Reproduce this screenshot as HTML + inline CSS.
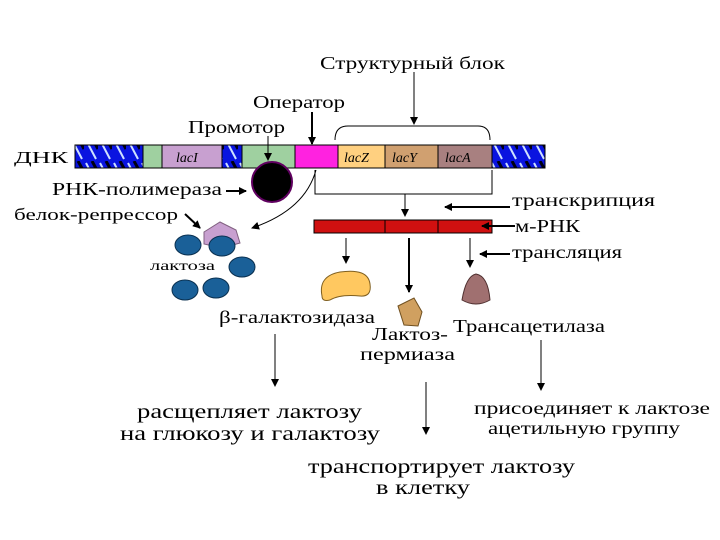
<!DOCTYPE html>
<html><head><meta charset="utf-8"><style>
html,body{margin:0;padding:0;background:#fff;width:720px;height:540px;overflow:hidden}
svg text{font-family:"Liberation Serif","DejaVu Serif",serif;fill:#000}
</style></head><body>
<svg width="720" height="540" viewBox="0 0 720 540" xmlns="http://www.w3.org/2000/svg">
<defs>
<marker id="a" markerWidth="8" markerHeight="8" refX="7" refY="4" orient="auto" markerUnits="userSpaceOnUse"><path d="M0,0 L8,4 L0,8 z" fill="#000"/></marker>
<pattern id="h" width="14" height="23" patternUnits="userSpaceOnUse"><rect width="14" height="23" fill="#0a14e0"/><path d="M2,2 L12,21" stroke="#cfe0ff" stroke-width="2"/><path d="M8,0 L14,11" stroke="#001" stroke-width="3"/></pattern>
</defs>
<g stroke="#000" stroke-width="1">
<rect x="75" y="145" width="68" height="23" fill="url(#h)"/>
<rect x="143" y="145" width="19" height="23" fill="#9fd0a0"/>
<rect x="162" y="145" width="60" height="23" fill="#c8a0d0"/>
<rect x="222" y="145" width="20" height="23" fill="url(#h)"/>
<rect x="242" y="145" width="53" height="23" fill="#9fd0a0"/>
<rect x="295" y="145" width="43" height="23" fill="#ff22e0"/>
<rect x="338" y="145" width="47" height="23" fill="#ffd080"/>
<rect x="385" y="145" width="53" height="23" fill="#d0a070"/>
<rect x="438" y="145" width="54" height="23" fill="#a88080"/>
<rect x="492" y="145" width="53" height="23" fill="url(#h)"/>
</g>
<g font-style="italic" font-size="14">
<text x="176" y="162">lacI</text><text x="344" y="162">lacZ</text><text x="392" y="162">lacY</text><text x="445" y="162">lacA</text>
</g>
<text x="14" y="163" font-size="17" textLength="54" lengthAdjust="spacingAndGlyphs">ДНК</text>
<path d="M335,140 Q335,126 348,126 L478,126 Q490,126 490,140" fill="none" stroke="#000"/>
<line x1="414" y1="72" x2="414" y2="124" stroke="#000" marker-end="url(#a)"/>
<text x="320" y="69" font-size="18" textLength="185" lengthAdjust="spacingAndGlyphs">Структурный блок</text>
<text x="253" y="108" font-size="18" textLength="92" lengthAdjust="spacingAndGlyphs">Оператор</text>
<line x1="312" y1="112" x2="312" y2="144" stroke="#000" stroke-width="2" marker-end="url(#a)"/>
<text x="188" y="133" font-size="18" textLength="97" lengthAdjust="spacingAndGlyphs">Промотор</text>
<line x1="268" y1="136" x2="268" y2="160" stroke="#000" marker-end="url(#a)"/>
<circle cx="272" cy="182" r="20" fill="#000" stroke="#600060" stroke-width="2"/>
<text x="52" y="195" font-size="18" textLength="170" lengthAdjust="spacingAndGlyphs">РНК-полимераза</text>
<line x1="226" y1="191" x2="246" y2="191" stroke="#000" stroke-width="2" marker-end="url(#a)"/>
<text x="14" y="220" font-size="17" textLength="164" lengthAdjust="spacingAndGlyphs">белок-репрессор</text>
<line x1="185" y1="214" x2="200" y2="228" stroke="#000" stroke-width="2" marker-end="url(#a)"/>
<path d="M316,170 Q305,210 252,228" fill="none" stroke="#000" marker-end="url(#a)"/>
<path d="M204,232 L220,222 L236,230 L240,243 L222,248 L204,244 z" fill="#c8a0d0" stroke="#806080"/>
<g fill="#1a6098" stroke="#0a3050">
<ellipse cx="188" cy="245" rx="13" ry="10"/><ellipse cx="222" cy="246" rx="13" ry="10"/>
<ellipse cx="242" cy="267" rx="13" ry="10"/><ellipse cx="185" cy="290" rx="13" ry="10"/><ellipse cx="216" cy="288" rx="13" ry="10"/>
</g>
<text x="150" y="270" font-size="14" textLength="65" lengthAdjust="spacingAndGlyphs">лактоза</text>
<path d="M315,170 L315,194 L492,194 L492,170" fill="none" stroke="#000"/>
<line x1="405" y1="194" x2="405" y2="216" stroke="#000" marker-end="url(#a)"/>
<line x1="510" y1="207" x2="445" y2="207" stroke="#000" stroke-width="2" marker-end="url(#a)"/>
<text x="512" y="206" font-size="18" textLength="143" lengthAdjust="spacingAndGlyphs">транскрипция</text>
<g stroke="#000"><rect x="314" y="220" width="71" height="13" fill="#d01010"/><rect x="385" y="220" width="53" height="13" fill="#d01010"/><rect x="438" y="220" width="54" height="13" fill="#d01010"/></g>
<line x1="515" y1="226" x2="482" y2="226" stroke="#000" stroke-width="2" marker-end="url(#a)"/>
<text x="515" y="232" font-size="18" textLength="65" lengthAdjust="spacingAndGlyphs">м-РНК</text>
<line x1="346" y1="238" x2="346" y2="263" stroke="#000" marker-end="url(#a)"/>
<line x1="409" y1="238" x2="409" y2="292" stroke="#000" stroke-width="2" marker-end="url(#a)"/>
<line x1="470" y1="238" x2="470" y2="267" stroke="#000" marker-end="url(#a)"/>
<line x1="510" y1="254" x2="480" y2="254" stroke="#000" stroke-width="2" marker-end="url(#a)"/>
<text x="512" y="258" font-size="18" textLength="110" lengthAdjust="spacingAndGlyphs">трансляция</text>
<path d="M322,296 Q318,276 340,272 Q368,268 370,284 Q372,297 360,296 Q340,294 330,300 Q322,302 322,296 z" fill="#ffc860" stroke="#806020"/>
<path d="M398,306 L414,298 L422,312 L418,326 L404,325 z" fill="#d0a060" stroke="#705020"/>
<path d="M462,300 Q466,276 476,274 Q488,276 490,300 Q476,308 462,300 z" fill="#a07070" stroke="#503030"/>
<text x="219" y="323" font-size="18" textLength="156" lengthAdjust="spacingAndGlyphs">β-галактозидаза</text>
<text x="372" y="340" font-size="18" textLength="76" lengthAdjust="spacingAndGlyphs">Лактоз-</text>
<text x="360" y="360" font-size="18" textLength="95" lengthAdjust="spacingAndGlyphs">пермиаза</text>
<text x="453" y="332" font-size="18" textLength="152" lengthAdjust="spacingAndGlyphs">Трансацетилаза</text>
<line x1="275" y1="334" x2="275" y2="386" stroke="#000" marker-end="url(#a)"/>
<line x1="426" y1="382" x2="426" y2="434" stroke="#000" marker-end="url(#a)"/>
<line x1="541" y1="340" x2="541" y2="390" stroke="#000" marker-end="url(#a)"/>
<text x="137" y="418" font-size="20" textLength="225" lengthAdjust="spacingAndGlyphs">расщепляет лактозу</text>
<text x="120" y="440" font-size="20" textLength="260" lengthAdjust="spacingAndGlyphs">на глюкозу и галактозу</text>
<text x="474" y="414" font-size="18" textLength="236" lengthAdjust="spacingAndGlyphs">присоединяет к лактозе</text>
<text x="488" y="434" font-size="18" textLength="192" lengthAdjust="spacingAndGlyphs">ацетильную группу</text>
<text x="308" y="473" font-size="20" textLength="267" lengthAdjust="spacingAndGlyphs">транспортирует лактозу</text>
<text x="376" y="494" font-size="20" textLength="94" lengthAdjust="spacingAndGlyphs">в клетку</text>
</svg>
</body></html>
